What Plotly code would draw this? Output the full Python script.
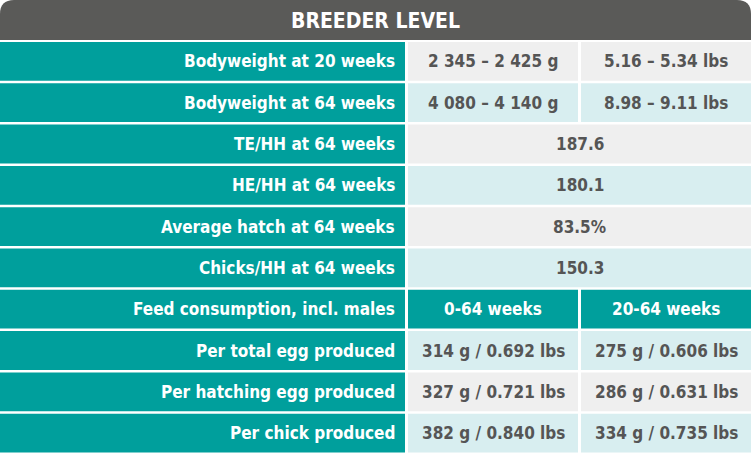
import plotly.graph_objects as go

title = "BREEDER LEVEL"
labels = ["Bodyweight at 20 weeks", "Bodyweight at 64 weeks", "TE/HH at 64 weeks",
          "HE/HH at 64 weeks", "Average hatch at 64 weeks", "Chicks/HH at 64 weeks",
          "Feed consumption, incl. males", "Per total egg produced",
          "Per hatching egg produced", "Per chick produced"]
col1 = ["2 345 – 2 425 g", "4 080 – 4 140 g", "187.6", "180.1", "83.5%", "150.3",
        "0-64 weeks", "314 g / 0.692 lbs", "327 g / 0.721 lbs", "382 g / 0.840 lbs"]
col2 = ["5.16 – 5.34 lbs", "8.98 – 9.11 lbs", None, None, None, None,
        "20-64 weeks", "275 g / 0.606 lbs", "286 g / 0.631 lbs", "334 g / 0.735 lbs"]
subheader_row = 6

W, H = 751, 456
TEAL = "#009f9c"
GRAY_BG = ["#efefef", "#d8eef0"]
TXT = "#555555"
FONT = "DejaVu Sans Condensed, Liberation Sans Narrow, Roboto, sans-serif"

fig = go.Figure()
shapes, ann = [], []
hdr_h = 40
r = 14
shapes.append(dict(type="path", xref="x", yref="y", line_width=0, fillcolor="#5a5a58",
                   path=f"M0,{hdr_h} L0,{r} Q0,0 {r},0 L{W-r},0 Q{W},0 {W},{r} L{W},{hdr_h} Z"))
ann.append(dict(x=W/2, y=hdr_h/2+1, text=title, showarrow=False,
                font=dict(family=FONT, size=21, color="white", weight="bold")))
top0, rh, gap = 42, 41.3, 2.5
x1a, x1b, x2a = 408, 578, 581
for i, lab in enumerate(labels):
    y0 = top0 + i*rh
    y1 = y0 + rh - gap
    yc = (y0+y1)/2
    shapes.append(dict(type="rect", x0=0, x1=405, y0=y0, y1=y1, fillcolor=TEAL, line_width=0))
    ann.append(dict(x=397, y=yc, text=lab, xanchor="right", showarrow=False,
                    font=dict(family=FONT, size=17, color="white", weight="bold")))
    sub = i == subheader_row
    bg = TEAL if sub else GRAY_BG[i % 2]
    tc = "white" if sub else TXT
    f = dict(family=FONT, size=17, color=tc, weight="bold")
    if col2[i] is None:
        shapes.append(dict(type="rect", x0=x1a, x1=W, y0=y0, y1=y1, fillcolor=bg, line_width=0))
        ann.append(dict(x=(x1a+W)/2, y=yc, text=col1[i], showarrow=False, font=f))
    else:
        shapes.append(dict(type="rect", x0=x1a, x1=x1b, y0=y0, y1=y1, fillcolor=bg, line_width=0))
        shapes.append(dict(type="rect", x0=x2a, x1=W, y0=y0, y1=y1, fillcolor=bg, line_width=0))
        ann.append(dict(x=(x1a+x1b)/2, y=yc, text=col1[i], showarrow=False, font=f))
        ann.append(dict(x=(x2a+W)/2, y=yc, text=col2[i], showarrow=False, font=f))

for s in shapes:
    s.setdefault("xref", "x"); s.setdefault("yref", "y")
fig.update_layout(width=W, height=H, margin=dict(l=0, r=0, t=0, b=0),
                  paper_bgcolor="white", plot_bgcolor="white", shapes=shapes, annotations=ann,
                  xaxis=dict(range=[0, W], visible=False, fixedrange=True),
                  yaxis=dict(range=[H, 0], visible=False, fixedrange=True),
                  showlegend=False)
fig.write_html("out.html", config={"displayModeBar": False},
               post_script="document.body.style.margin='0';document.body.style.overflow='hidden';")
